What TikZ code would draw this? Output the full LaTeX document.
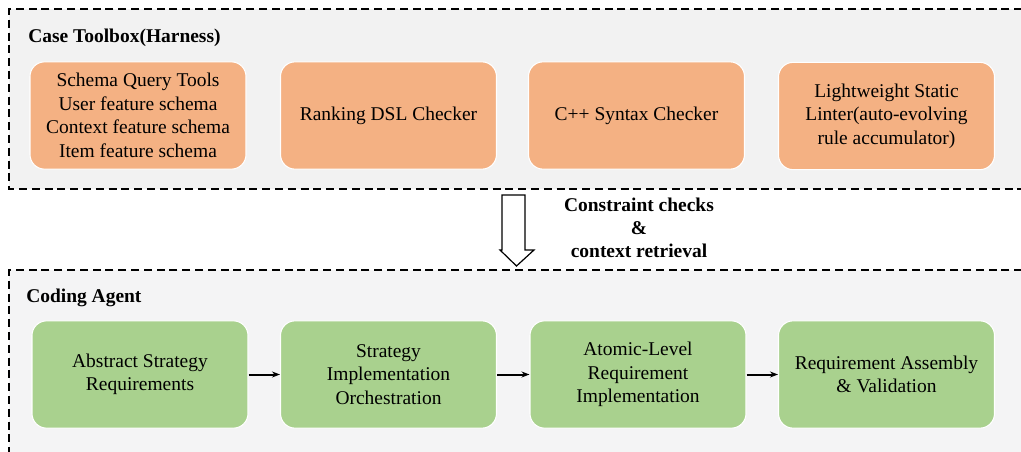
\documentclass[tikz,border=0pt]{standalone}
\usepackage{fontspec}
\setmainfont{Liberation Serif}
\usetikzlibrary{arrows.meta}
\definecolor{orangebox}{HTML}{F4B183}
\definecolor{greenbox}{HTML}{A9D18E}
\definecolor{panelgray}{HTML}{F2F2F2}
\definecolor{panelgray2}{HTML}{F4F4F5}
\tikzset{
  panel/.style={draw=black, line width=1.4pt, dash pattern=on 6pt off 3.6pt},
  toolbox/.style={draw=white, line width=0.8pt, fill=orangebox, rounded corners=11pt,
    minimum width=162pt, minimum height=80.5pt, align=center, inner sep=0pt,
    font=\rmfamily\fontsize{14.6pt}{17.6pt}\selectfont},
  agentbox/.style={toolbox, fill=greenbox},
  paneltitle/.style={anchor=west, inner sep=0pt, font=\rmfamily\bfseries\fontsize{14.6pt}{17.6pt}\selectfont},
  flow/.style={-{Stealth[length=6pt,width=4.5pt]}, line width=1.5pt},
  blockarrow/.style={draw=black, fill=white, line width=0.9pt, line join=miter}
}
\begin{document}
\begin{tikzpicture}[x=0.75pt,y=-0.75pt]
\useasboundingbox (0,0) rectangle (1021,452);
\fill[white] (0,0) rectangle (1021,452);
\begin{scope}
\clip (0,0) rectangle (1021,452);
\fill[panelgray] (9,9) rectangle (1035,189);
\draw[panel] (1035,9) -- (9,9) -- (9,189) -- (1035,189);
\fill[panelgray2] (9,270) rectangle (1035,470);
\draw[panel] (1035,270) -- (9,270) -- (9,470);
\end{scope}

\node[paneltitle] (t1) at (28,38) {Case Toolbox(Harness)};
\node[paneltitle] (t2) at (26,298) {Coding Agent};

\node[toolbox] (o1) at (138,115.5) {Schema Query Tools\\User feature schema\\Context feature schema\\Item feature schema};
\node[toolbox] (o2) at (388.5,115.5) {Ranking DSL Checker};
\node[toolbox] (o3) at (636.5,115.5) {C++ Syntax Checker};
\node[toolbox] (o4) at (886.5,116) {Lightweight Static\\Linter(auto-evolving\\rule accumulator)};

\node[agentbox] (g1) at (140,374.5) {Abstract Strategy\\Requirements};
\node[agentbox] (g2) at (388.5,374.5) {Strategy\\Implementation\\Orchestration};
\node[agentbox] (g3) at (638,374.5) {Atomic-Level\\Requirement\\Implementation};
\node[agentbox] (g4) at (886.5,374.5) {Requirement Assembly\\\& Validation};

\draw[flow] (g1.east) -- (g2.west);
\draw[flow] (g2.east) -- (g3.west);
\draw[flow] (g3.east) -- (g4.west);

\coordinate (atip) at (516.5,266);
\draw[blockarrow] (502,195) -- (525,195) -- (525,250) -- (534,250) -- (atip) -- (500,250) -- (502,250) -- cycle;

\node[align=center, inner sep=0pt, font=\rmfamily\bfseries\fontsize{14.6pt}{17.3pt}\selectfont] (lbl) at (639,228) {Constraint checks\\\&\\context retrieval};
\end{tikzpicture}
\end{document}
